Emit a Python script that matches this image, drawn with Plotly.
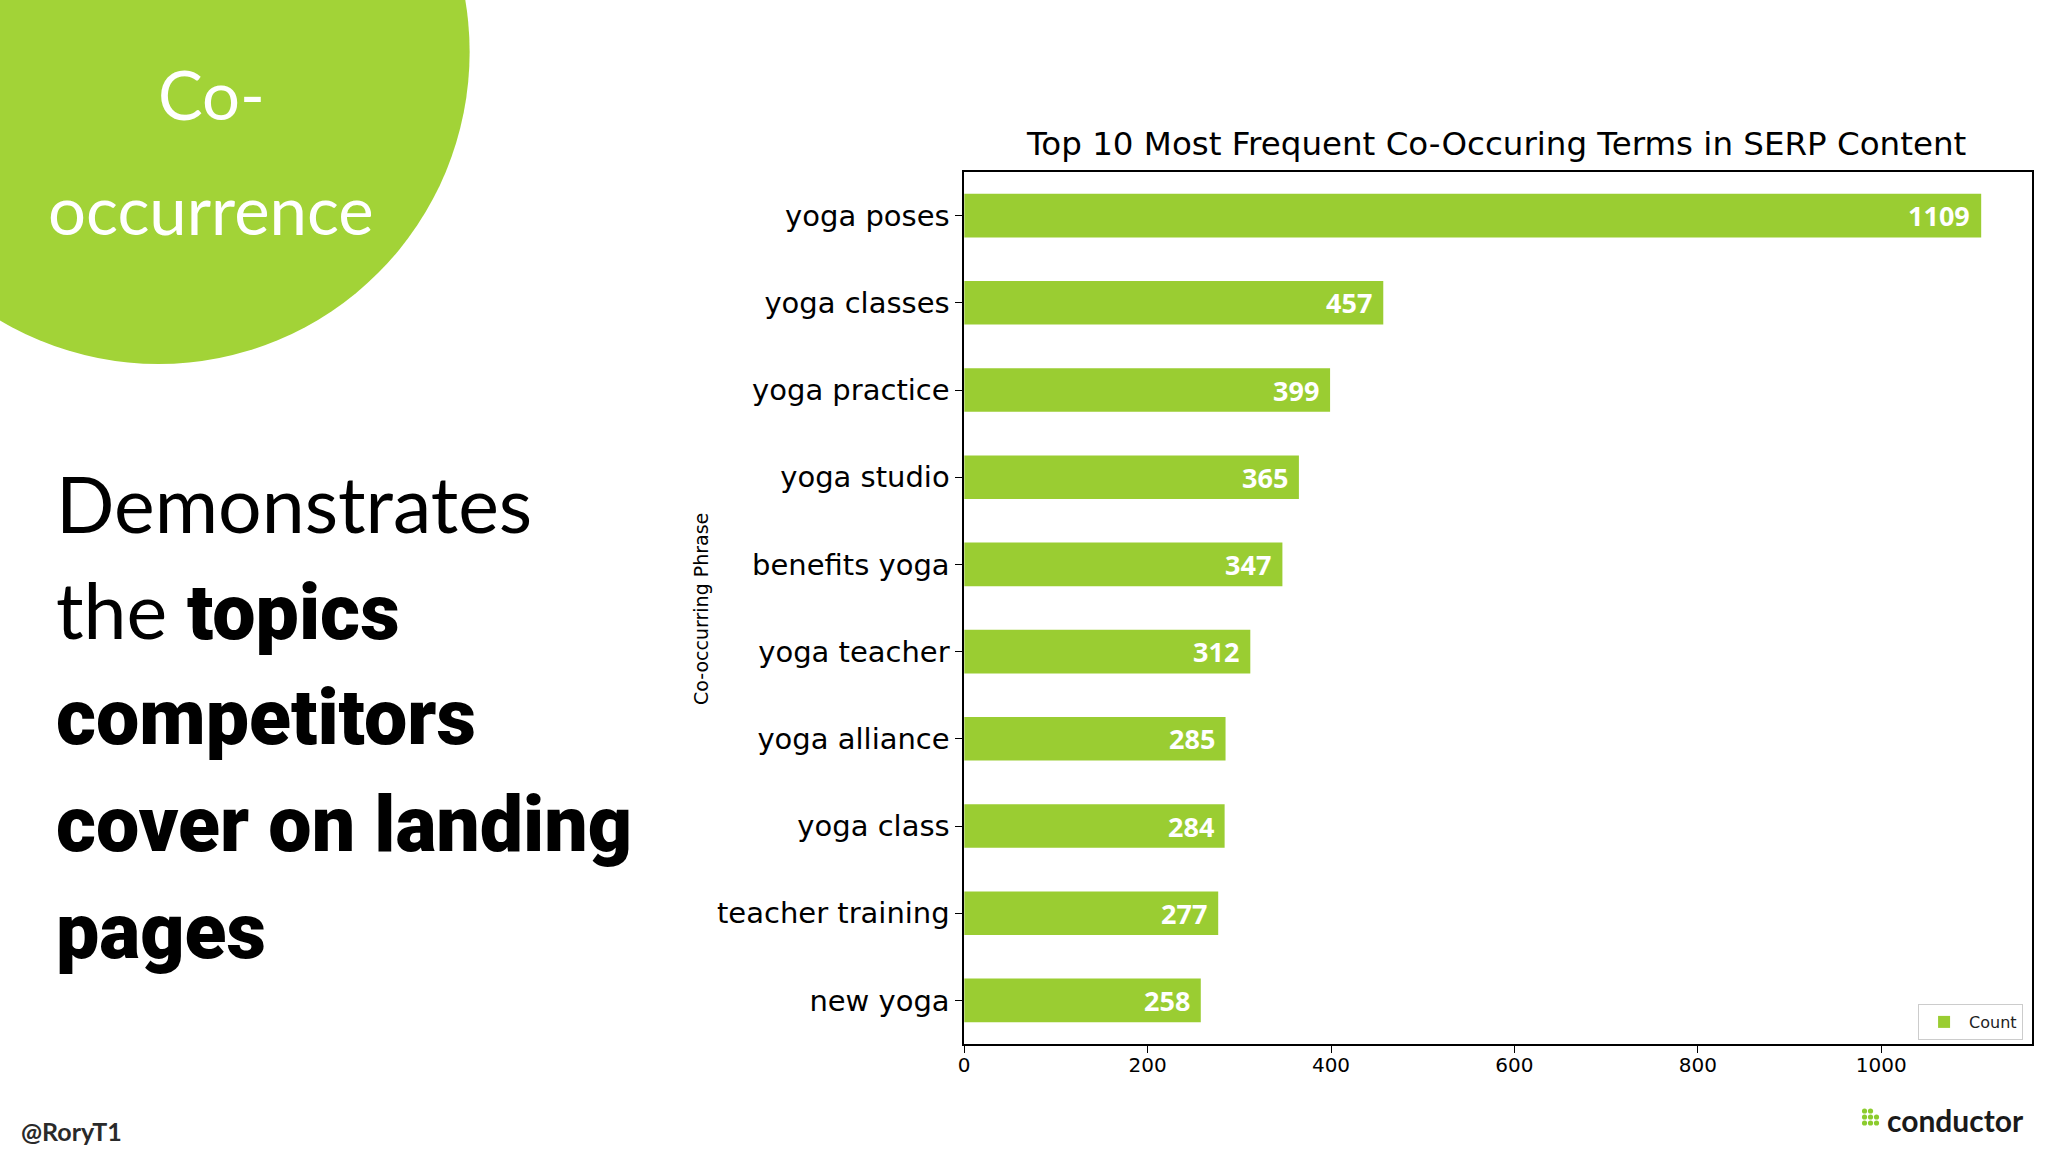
import plotly.graph_objects as go

phrases = ["yoga poses", "yoga classes", "yoga practice", "yoga studio", "benefits yoga",
           "yoga teacher", "yoga alliance", "yoga class", "teacher training", "new yoga"]
counts = [1109, 457, 399, 365, 347, 312, 285, 284, 277, 258]

chart_title = "Top 10 Most Frequent Co-Occuring Terms in SERP Content"
y_title = "Co-occurring Phrase"
series_name = "Count"

W, H = 2048, 1152
BAR = "#9acd32"

def px(x):
    return x / W

def py(y):
    return 1 - y / H

fig = go.Figure()
fig.add_trace(go.Bar(
    x=counts, y=phrases, orientation="h", width=0.5,
    marker=dict(color=BAR, line=dict(width=0)),
    name=series_name, showlegend=True,
))

annotations = []
for p, c in zip(phrases, counts):
    annotations.append(dict(
        x=c, y=p, xref="x", yref="y", text=str(c), showarrow=False,
        xanchor="right", yanchor="middle", xshift=-9,
        font=dict(family="Open Sans", size=27, color="white", weight="bold"),
    ))

annotations.append(dict(x=px(1494), y=py(144), xref="paper", yref="paper", text=chart_title,
                        showarrow=False, xanchor="center", yanchor="middle",
                        font=dict(family="DejaVu Sans", size=32.5, color="black")))
annotations.append(dict(x=px(697), y=py(609), xref="paper", yref="paper", text=y_title,
                        showarrow=False, xanchor="center", yanchor="middle", textangle=-90,
                        font=dict(family="DejaVu Sans", size=19, color="black")))

annotations.append(dict(x=px(206), y=py(94), xref="paper", yref="paper", text="Co-",
                        showarrow=False, xanchor="center", yanchor="middle",
                        font=dict(family="Lato", size=67, color="white")))
annotations.append(dict(x=px(206), y=py(209), xref="paper", yref="paper", text="occurrence",
                        showarrow=False, xanchor="center", yanchor="middle",
                        font=dict(family="Lato", size=67, color="white")))

BOLD_STYLE = "font-family:Roboto;font-weight:900;font-size:77px"
lines = [
    ("Demonstrates", 503),
    ("the <span style=\"%s\">topics</span>" % BOLD_STYLE, 610),
    ("<span style=\"%s\">competitors</span>" % BOLD_STYLE, 718),
    ("<span style=\"%s\">cover on landing</span>" % BOLD_STYLE, 825),
    ("<span style=\"%s\">pages</span>" % BOLD_STYLE, 932),
]
for t, yy in lines:
    annotations.append(dict(x=px(48), y=py(yy), xref="paper", yref="paper", text=t,
                            showarrow=False, xanchor="left", yanchor="middle",
                            font=dict(family="Lato", size=77, color="black")))

annotations.append(dict(x=px(13), y=py(1131), xref="paper", yref="paper", text="@RoryT1",
                        showarrow=False, xanchor="left", yanchor="middle",
                        font=dict(family="Lato", size=25, color="#2a2a2a", weight="bold")))
annotations.append(dict(x=px(2026), y=py(1120), xref="paper", yref="paper", text="conductor",
                        showarrow=False, xanchor="right", yanchor="middle",
                        font=dict(family="Lato", size=30, color="#1a1a1a", weight="bold")))

shapes = [dict(type="circle", xref="paper", yref="paper",
               x0=px(153 - 312), x1=px(153 + 312), y0=py(52 + 312), y1=py(52 - 312),
               fillcolor="#a2d337", line=dict(width=0), layer="below")]
dots = [(0, 0), (1, 0), (0, 1), (1, 1), (2, 1), (0, 2), (1, 2), (2, 2)]
for cx, cy in dots:
    x = 1864 + cx * 6
    y = 1111 + cy * 6
    shapes.append(dict(type="circle", xref="paper", yref="paper",
                       x0=px(x - 2.6), x1=px(x + 2.6), y0=py(y + 2.6), y1=py(y - 2.6),
                       fillcolor="#8ccc2e", line=dict(width=0)))

fig.update_layout(
    width=W, height=H, margin=dict(l=0, r=0, t=0, b=0),
    paper_bgcolor="white", plot_bgcolor="white",
    showlegend=True,
    legend=dict(x=px(2023), y=py(1004), xanchor="right", yanchor="top",
                bgcolor="white", bordercolor="#cccccc", borderwidth=1,
                font=dict(family="DejaVu Sans", size=16, color="#222"),
                itemwidth=40),
    xaxis=dict(domain=[px(961), px(2032)], range=[0, max(counts) * 1.05],
               tickmode="linear", tick0=0, dtick=200,
               showline=True, linecolor="black", linewidth=1.5, mirror=True,
               ticks="outside", ticklen=7, tickcolor="black", showgrid=False, zeroline=False,
               ticklabelstandoff=-5,
               tickfont=dict(family="DejaVu Sans", size=20, color="black")),
    yaxis=dict(domain=[py(1044), py(172)], type="category", categoryorder="array",
               categoryarray=phrases, range=[len(phrases) - 0.5, -0.5],
               showline=True, linecolor="black", linewidth=1.5, mirror=True,
               ticks="outside", ticklen=7, tickcolor="black", showgrid=False,
               tickfont=dict(family="DejaVu Sans", size=29, color="black")),
    annotations=annotations, shapes=shapes,
)

fig.write_html("out.html", config={"displayModeBar": False},
               post_script="document.body.style.margin='0';")
